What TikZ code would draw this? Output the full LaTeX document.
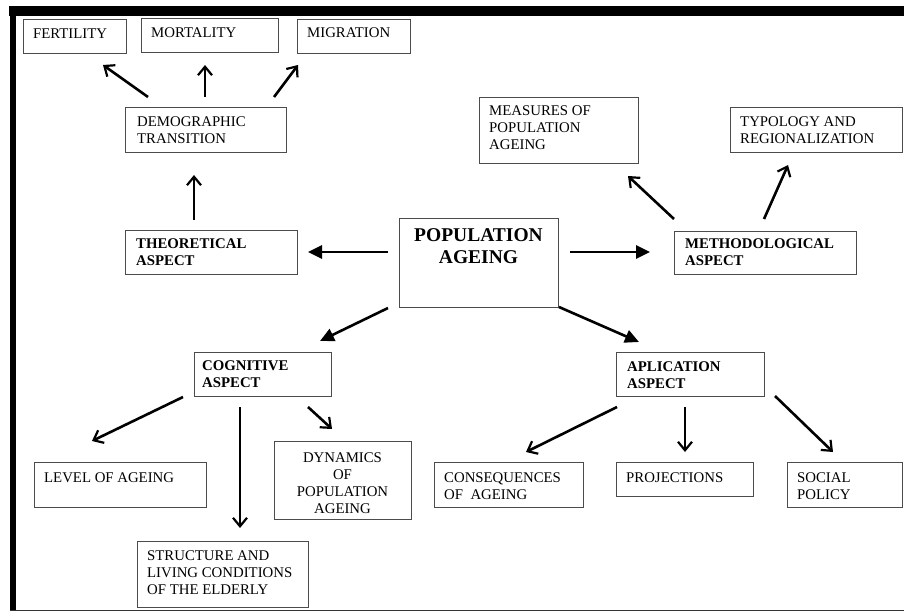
\documentclass[tikz,border=0pt]{standalone}
\usepackage{fontspec}
\setmainfont{Liberation Serif}
\usetikzlibrary{arrows.meta,calc}
\tikzset{
  box/.style={draw=black!70, line width=0.9pt, anchor=north west, inner sep=0pt, fill=white},
  txt/.style={anchor=north west, inner sep=0pt, align=left, font=\fontsize{14.8}{17}\selectfont},
  btxt/.style={anchor=north west, inner sep=0pt, align=left, font=\fontsize{14.8}{17}\selectfont\bfseries},
  vline/.style={line width=2.6pt, -{Straight Barb[length=8.5pt,width=14pt,line width=2.2pt]}},
  tline/.style={line width=2.6pt, -{Triangle[length=14pt,width=13pt]}},
}
\begin{document}
\begin{tikzpicture}[x=1pt,y=-1pt]
\useasboundingbox (0,0) rectangle (904,612);
% frame
\fill[black] (9,6) rectangle (904,16);
\fill[black] (10,6) rectangle (16,611);
\draw[black!80, line width=1.2pt] (10,610.5) -- (904,610.5);
% boxes
\node[box, minimum width=103pt, minimum height=34pt] (fert) at (23,19) {};
\node[box, minimum width=137pt, minimum height=34pt] (mort) at (141,18) {};
\node[box, minimum width=113pt, minimum height=34pt] (migr) at (297,19) {};
\node[box, minimum width=161pt, minimum height=45pt] (demo) at (125,107) {};
\node[box, minimum width=172pt, minimum height=44pt] (theo) at (125,230) {};
\node[box, minimum width=159pt, minimum height=89pt] (pop) at (399,218) {};
\node[box, minimum width=182pt, minimum height=43pt] (meth) at (674,231) {};
\node[box, minimum width=159pt, minimum height=66pt] (meas) at (479,97) {};
\node[box, minimum width=172pt, minimum height=45pt] (typo) at (730,107) {};
\node[box, minimum width=137pt, minimum height=44pt] (cogn) at (194,352) {};
\node[box, minimum width=148pt, minimum height=44pt] (apl) at (616,352) {};
\node[box, minimum width=172pt, minimum height=45pt] (level) at (34,462) {};
\node[box, minimum width=137pt, minimum height=78pt] (dyn) at (274,441) {};
\node[box, minimum width=171pt, minimum height=66pt] (struct) at (137,541) {};
\node[box, minimum width=149pt, minimum height=45pt] (cons) at (434,462) {};
\node[box, minimum width=137pt, minimum height=34pt] (proj) at (616,462) {};
\node[box, minimum width=115pt, minimum height=45pt] (soc) at (787,462) {};
% texts
\node[txt] (fertT) at (33,29) {FERTILITY};
\node[txt] (mortT) at (151,28) {MORTALITY};
\node[txt] (migrT) at (307,28) {MIGRATION};
\node[txt] (demoT) at (137,117) {DEMOGRAPHIC\\TRANSITION};
\node[btxt] (theoT) at (136,239) {THEORETICAL\\ASPECT};
\node[anchor=north, inner sep=0pt, align=center, font=\fontsize{19.5}{22}\selectfont\bfseries] (popT) at (478.5,228) {POPULATION\\AGEING};
\node[btxt] (methT) at (685,239) {METHODOLOGICAL\\ASPECT};
\node[txt] (measT) at (489,106) {MEASURES OF\\POPULATION\\AGEING};
\node[txt] (typoT) at (740,117) {TYPOLOGY AND\\REGIONALIZATION};
\node[btxt] (cognT) at (202,360) {COGNITIVE\\ASPECT};
\node[btxt] (aplT) at (627,361) {APLICATION\\ASPECT};
\node[txt] (levelT) at (44,472) {LEVEL OF AGEING};
\node[anchor=north, inner sep=0pt, align=center, font=\fontsize{14.8}{17}\selectfont] (dynT) at (342.5,452) {DYNAMICS\\OF\\POPULATION\\AGEING};
\node[txt] (structT) at (147,550) {STRUCTURE AND\\LIVING CONDITIONS\\OF THE ELDERLY};
\node[txt] (consT) at (444,472) {CONSEQUENCES\\OF\ \ AGEING};
\node[txt] (projT) at (626,472) {PROJECTIONS};
\node[txt] (socT) at (797,472) {SOCIAL\\POLICY};
% arrows
\draw[vline] ($(demo.north west)+(23,-10)$) -- ($(fert.north west)+(80,46)$);
\draw[vline] ($(demo.north west)+(80,-10)$) -- ($(mort.north west)+(64,47)$);
\draw[vline] ($(demo.north west)+(149,-10)$) -- ($(migr.north west)+(1,46)$);
\draw[vline] ($(theo.north west)+(69,-10)$) -- ($(demo.north west)+(69,68)$);
\draw[tline] ($(pop.north west)+(-11,34)$) -- ($(theo.north west)+(183,22)$);
\draw[tline] ($(pop.north west)+(171,34)$) -- ($(meth.north west)+(-24,21)$);
\draw[vline] ($(meth.north west)+(0,-12)$) -- ($(meas.north west)+(149,79)$);
\draw[vline] ($(meth.north west)+(90,-12)$) -- ($(typo.north west)+(58,58)$);
\draw[tline] ($(pop.north west)+(-11,90)$) -- ($(cogn.north west)+(126,-11)$);
\draw[tline] ($(pop.north west)+(160,89)$) -- ($(apl.north west)+(23,-10)$);
\draw[vline] ($(cogn.north west)+(-11,45)$) -- ($(level.north west)+(58,-21)$);
\draw[vline] ($(cogn.north west)+(46,55)$) -- ($(struct.north west)+(103,-13)$);
\draw[vline] ($(cogn.north west)+(114,55)$) -- ($(dyn.north west)+(58,-12)$);
\draw[vline] ($(apl.north west)+(1,55)$) -- ($(cons.north west)+(92,-10)$);
\draw[vline] ($(apl.north west)+(69,55)$) -- ($(proj.north west)+(69,-10)$);
\draw[vline] ($(apl.north west)+(159,44)$) -- ($(soc.north west)+(46,-10)$);
\end{tikzpicture}
\end{document}
